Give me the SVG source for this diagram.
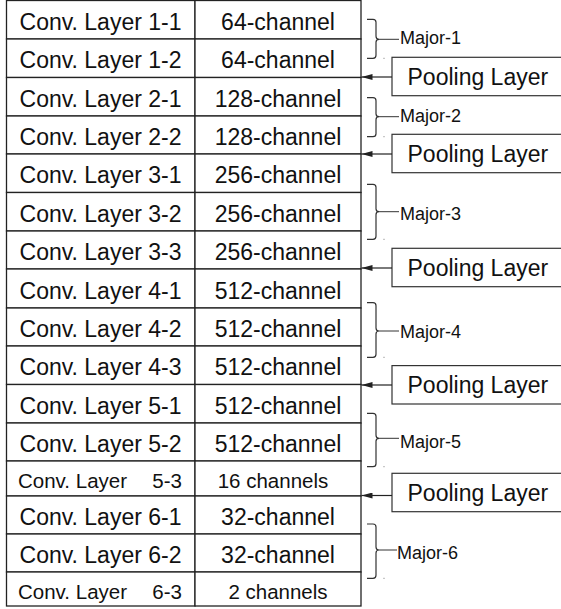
<svg xmlns="http://www.w3.org/2000/svg" width="561" height="609" viewBox="0 0 561 609">
<style>
.cell{fill:#fff;stroke:#222;stroke-width:1.3}
.t{font-family:"Liberation Sans",Arial,sans-serif;font-size:23px;fill:#111;text-anchor:middle}
.ts{font-family:"Liberation Sans",Arial,sans-serif;font-size:20.5px;fill:#111}
.pbox{fill:#fff;stroke:#333;stroke-width:1.2}
.pt{font-family:"Liberation Sans",Arial,sans-serif;font-size:23px;fill:#111}
.brace{fill:none;stroke:#333;stroke-width:1.2}
.tick{stroke:#333;stroke-width:1}
.ml{font-family:"Liberation Sans",Arial,sans-serif;font-size:18px;fill:#111}
.arr{stroke:#222;stroke-width:1.2;fill:none;marker-end:url(#ah)}
</style>
<defs>
<marker id="ah" markerUnits="userSpaceOnUse" markerWidth="12" markerHeight="6" refX="11" refY="3" orient="auto">
<path d="M0,0 L11,3 L0,6 Z" fill="#222"/>
</marker>
</defs>
<rect width="561" height="609" fill="#fff"/>
<g id="row-1-1"><rect class="cell" x="6.5" y="0.5" width="188.5" height="38.5"/><rect class="cell" x="195" y="0.5" width="166" height="38.5"/><text class="t" x="100.5" y="29.5">Conv. Layer 1-1</text><text class="t" x="278" y="29.5">64-channel</text></g>
<g id="row-1-2"><rect class="cell" x="6.5" y="39" width="188.5" height="38.5"/><rect class="cell" x="195" y="39" width="166" height="38.5"/><text class="t" x="100.5" y="68.3">Conv. Layer 1-2</text><text class="t" x="278" y="68.3">64-channel</text></g>
<g id="row-2-1"><rect class="cell" x="6.5" y="77.5" width="188.5" height="38.5"/><rect class="cell" x="195" y="77.5" width="166" height="38.5"/><text class="t" x="100.5" y="106.8">Conv. Layer 2-1</text><text class="t" x="278" y="106.8">128-channel</text></g>
<g id="row-2-2"><rect class="cell" x="6.5" y="116" width="188.5" height="38"/><rect class="cell" x="195" y="116" width="166" height="38"/><text class="t" x="100.5" y="145">Conv. Layer 2-2</text><text class="t" x="278" y="145">128-channel</text></g>
<g id="row-3-1"><rect class="cell" x="6.5" y="154" width="188.5" height="38.5"/><rect class="cell" x="195" y="154" width="166" height="38.5"/><text class="t" x="100.5" y="183.3">Conv. Layer 3-1</text><text class="t" x="278" y="183.3">256-channel</text></g>
<g id="row-3-2"><rect class="cell" x="6.5" y="192.5" width="188.5" height="38.5"/><rect class="cell" x="195" y="192.5" width="166" height="38.5"/><text class="t" x="100.5" y="221.8">Conv. Layer 3-2</text><text class="t" x="278" y="221.8">256-channel</text></g>
<g id="row-3-3"><rect class="cell" x="6.5" y="231" width="188.5" height="38"/><rect class="cell" x="195" y="231" width="166" height="38"/><text class="t" x="100.5" y="260">Conv. Layer 3-3</text><text class="t" x="278" y="260">256-channel</text></g>
<g id="row-4-1"><rect class="cell" x="6.5" y="269" width="188.5" height="39"/><rect class="cell" x="195" y="269" width="166" height="39"/><text class="t" x="100.5" y="298.5">Conv. Layer 4-1</text><text class="t" x="278" y="298.5">512-channel</text></g>
<g id="row-4-2"><rect class="cell" x="6.5" y="308" width="188.5" height="38"/><rect class="cell" x="195" y="308" width="166" height="38"/><text class="t" x="100.5" y="337">Conv. Layer 4-2</text><text class="t" x="278" y="337">512-channel</text></g>
<g id="row-4-3"><rect class="cell" x="6.5" y="346" width="188.5" height="38.5"/><rect class="cell" x="195" y="346" width="166" height="38.5"/><text class="t" x="100.5" y="375.3">Conv. Layer 4-3</text><text class="t" x="278" y="375.3">512-channel</text></g>
<g id="row-5-1"><rect class="cell" x="6.5" y="384.5" width="188.5" height="38.5"/><rect class="cell" x="195" y="384.5" width="166" height="38.5"/><text class="t" x="100.5" y="413.8">Conv. Layer 5-1</text><text class="t" x="278" y="413.8">512-channel</text></g>
<g id="row-5-2"><rect class="cell" x="6.5" y="423" width="188.5" height="38"/><rect class="cell" x="195" y="423" width="166" height="38"/><text class="t" x="100.5" y="452">Conv. Layer 5-2</text><text class="t" x="278" y="452">512-channel</text></g>
<g id="row-5-3"><rect class="cell" x="6.5" y="461" width="188.5" height="35"/><rect class="cell" x="195" y="461" width="166" height="35"/><text class="ts" x="18" y="488">Conv. Layer</text><text class="ts" x="182" y="488" text-anchor="end">5-3</text><text class="ts" x="273" y="488" text-anchor="middle">16 channels</text></g>
<g id="row-6-1"><rect class="cell" x="6.5" y="496" width="188.5" height="38"/><rect class="cell" x="195" y="496" width="166" height="38"/><text class="t" x="100.5" y="525">Conv. Layer 6-1</text><text class="t" x="278" y="525">32-channel</text></g>
<g id="row-6-2"><rect class="cell" x="6.5" y="534" width="188.5" height="38"/><rect class="cell" x="195" y="534" width="166" height="38"/><text class="t" x="100.5" y="563">Conv. Layer 6-2</text><text class="t" x="278" y="563">32-channel</text></g>
<g id="row-6-3"><rect class="cell" x="6.5" y="572" width="188.5" height="34"/><rect class="cell" x="195" y="572" width="166" height="34"/><text class="ts" x="18" y="598.5">Conv. Layer</text><text class="ts" x="182" y="598.5" text-anchor="end">6-3</text><text class="ts" x="278" y="598.5" text-anchor="middle">2 channels</text></g>

<g id="pool-1"><rect class="pbox" x="392" y="57.3" width="180" height="38.4"/><text class="pt" x="407.5" y="85">Pooling Layer</text></g>
<g id="pool-2"><rect class="pbox" x="392" y="134.3" width="180" height="38.4"/><text class="pt" x="407.5" y="162">Pooling Layer</text></g>
<g id="pool-3"><rect class="pbox" x="392" y="248.3" width="180" height="38.4"/><text class="pt" x="407.5" y="276">Pooling Layer</text></g>
<g id="pool-4"><rect class="pbox" x="392" y="365.6" width="180" height="38.4"/><text class="pt" x="407.5" y="393.3">Pooling Layer</text></g>
<g id="pool-5"><rect class="pbox" x="392" y="473.3" width="180" height="38.4"/><text class="pt" x="407.5" y="501">Pooling Layer</text></g>

<g id="major-1"><path class="brace" d="M367,19.3 H373 Q376,19.3 376,22.3 V36.3 Q376,39.3 379,39.3 Q376,39.3 376,42.3 V55.3 Q376,58.3 373,58.3 H367"/><line class="tick" x1="379" y1="39.3" x2="399" y2="39.3" stroke="#999"/><rect x="383.5" y="57.8" width="1" height="1" fill="#777"/><text class="ml" x="400" y="44">Major-1</text></g>
<g id="major-2"><path class="brace" d="M367,97.7 H373 Q376,97.7 376,100.7 V113.7 Q376,116.7 379,116.7 Q376,116.7 376,119.7 V133.7 Q376,136.7 373,136.7 H367"/><line class="tick" x1="379" y1="116.7" x2="399" y2="116.7"/><rect x="383.5" y="136.2" width="1" height="1" fill="#777"/><text class="ml" x="400" y="121.7">Major-2</text></g>
<g id="major-3"><path class="brace" d="M367,184.3 H373 Q376,184.3 376,187.3 V208.7 Q376,211.7 379,211.7 Q376,211.7 376,214.7 V236.3 Q376,239.3 373,239.3 H367"/><line class="tick" x1="379" y1="211.7" x2="399" y2="211.7"/><rect x="383.5" y="238.8" width="1" height="1" fill="#777"/><text class="ml" x="400" y="220">Major-3</text></g>
<g id="major-4"><path class="brace" d="M367,302.7 H373 Q376,302.7 376,305.7 V328 Q376,331 379,331 Q376,331 376,334 V354.3 Q376,357.3 373,357.3 H367"/><line class="tick" x1="379" y1="331" x2="399" y2="331"/><rect x="383.5" y="356.8" width="1" height="1" fill="#777"/><text class="ml" x="400" y="337.5">Major-4</text></g>
<g id="major-5"><path class="brace" d="M367,413.3 H373 Q376,413.3 376,416.3 V435.3 Q376,438.3 379,438.3 Q376,438.3 376,441.3 V463.7 Q376,466.7 373,466.7 H367"/><line class="tick" x1="379" y1="438.3" x2="399" y2="438.3"/><rect x="383.5" y="466.2" width="1" height="1" fill="#777"/><text class="ml" x="400" y="448.3">Major-5</text></g>
<g id="major-6"><path class="brace" d="M367,524 H373 Q376,524 376,527 V547 Q376,550 379,550 Q376,550 376,553 V575.3 Q376,578.3 373,578.3 H367"/><line class="tick" x1="379" y1="550" x2="397" y2="550"/><rect x="383.5" y="577.8" width="1" height="1" fill="#777"/><text class="ml" x="397" y="559">Major-6</text></g>

<g id="connectors">
<line class="arr" x1="392" y1="77" x2="361.5" y2="77"/>
<line class="arr" x1="392" y1="154" x2="361.5" y2="154"/>
<line class="arr" x1="392" y1="268" x2="361.5" y2="268"/>
<line class="arr" x1="392" y1="385" x2="361.5" y2="385"/>
<line class="arr" x1="392" y1="495.5" x2="361.5" y2="495.5"/>
</g>
</svg>
